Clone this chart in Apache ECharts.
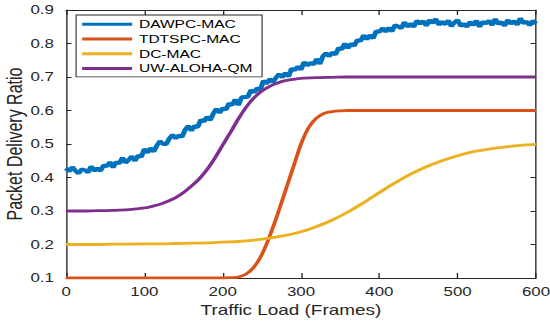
<!DOCTYPE html>
<html><head><meta charset="utf-8">
<script src="https://cdn.jsdelivr.net/npm/echarts@6/dist/echarts.min.js"></script>
<style>
html,body{margin:0;padding:0;background:#fff;overflow:hidden;width:550px;height:323px}
#wrap{width:407px;height:323px;transform:scaleX(1.3514);transform-origin:0 0}
</style></head><body><div id="wrap"></div>
<script>
const seriesNames = ['DAWPC-MAC', 'TDTSPC-MAC', 'DC-MAC', 'UW-ALOHA-QM'];
const seriesColors = ['#0072BD', '#D95319', '#EDB120', '#7E2F8E'];

// DAWPC-MAC: traffic load every 4 frames from 0 to 600
const dawpcStep = 4;
const dawpcY = [0.428,0.418,0.431,0.420,0.412,0.425,0.422,0.415,0.433,0.420,
0.427,0.420,0.437,0.433,0.446,0.430,0.446,0.442,0.459,0.444,
0.453,0.463,0.450,0.466,0.461,0.485,0.474,0.488,0.477,0.496,
0.508,0.500,0.500,0.517,0.527,0.517,0.526,0.521,0.542,0.554,
0.540,0.554,0.550,0.572,0.567,0.581,0.571,0.591,0.605,0.593,
0.607,0.602,0.621,0.616,0.633,0.616,0.639,0.641,0.640,0.661,
0.654,0.667,0.661,0.689,0.680,0.694,0.685,0.698,0.709,0.699,
0.712,0.702,0.725,0.720,0.731,0.722,0.745,0.734,0.743,0.737,
0.754,0.739,0.762,0.771,0.762,0.773,0.767,0.787,0.782,0.800,
0.786,0.800,0.793,0.811,0.807,0.825,0.812,0.825,0.815,0.837,
0.834,0.846,0.835,0.847,0.836,0.855,0.851,0.845,0.864,0.850,
0.859,0.850,0.868,0.859,0.867,0.853,0.870,0.861,0.873,0.856,
0.865,0.857,0.869,0.851,0.863,0.870,0.852,0.859,0.850,0.865,
0.855,0.868,0.850,0.865,0.860,0.868,0.855,0.873,0.858,0.864,
0.853,0.870,0.859,0.867,0.856,0.875,0.860,0.866,0.854,0.868,0.859];

const tdtspcX = [0,50,100,150,180,190,200,210,220,230,240,250,260,270,280,290,300,310,320,330,340,350,360,380,400,450,500,550,600];
const tdtspcY = [0.1,0.1,0.1,0.1,0.1,0.1,0.1,0.101,0.103,0.112,0.133,0.17,0.225,0.29,0.36,0.43,0.5,0.55,0.578,0.592,0.597,0.599,0.6,0.6,0.6,0.6,0.6,0.6,0.6];

const dcX = [0,20,40,60,80,100,120,140,160,180,200,220,240,260,280,300,320,340,360,380,400,420,440,460,480,500,520,540,560,580,600];
const dcY = [0.2,0.2,0.2,0.201,0.201,0.202,0.202,0.203,0.204,0.205,0.207,0.209,0.213,0.219,0.227,0.238,0.254,0.273,0.297,0.325,0.355,0.384,0.41,0.432,0.45,0.465,0.477,0.485,0.491,0.496,0.499];

const uwX = [0,20,40,60,80,100,110,120,130,140,150,160,170,180,190,200,210,220,230,240,250,260,270,280,290,300,320,340,360,400,450,500,550,600];
const uwY = [0.3,0.3,0.301,0.302,0.304,0.309,0.314,0.32,0.329,0.34,0.355,0.374,0.396,0.424,0.458,0.497,0.535,0.575,0.61,0.638,0.658,0.672,0.682,0.689,0.693,0.696,0.698,0.699,0.7,0.7,0.7,0.7,0.7,0.7];

const xMin = 0, xMax = 600, xInterval = 100;
const yMin = 0.1, yMax = 0.9, yInterval = 0.1;

const zip = (xs, ys) => ys.map((y, i) => [xs[i], y]);
const dawpcData = dawpcY.map((y, i) => [i * dawpcStep, y]);

const axisColor = '#262626';
const fontFam = '"Liberation Sans", Arial, Helvetica, sans-serif';

const chart = echarts.init(document.getElementById('wrap'), null, {renderer: 'svg', width: 407, height: 323});

function xAx(pos, main) {
  return {
    type: 'value', position: pos, min: xMin, max: xMax, interval: xInterval,
    axisLine: {show: true, onZero: false, lineStyle: {color: axisColor, width: 1}},
    axisTick: {show: true, inside: true, length: 5, lineStyle: {color: axisColor, width: 1}},
    axisLabel: {show: main, fontSize: 12.5, color: axisColor, margin: 7, fontFamily: fontFam},
    splitLine: {show: false},
    name: main ? 'Traffic Load (Frames)' : '',
    nameLocation: 'middle', nameGap: 22,
    nameTextStyle: {fontSize: 14, color: axisColor, fontFamily: fontFam, padding: [0, 15, 0, 0]}
  };
}
function yAx(pos, main) {
  return {
    type: 'value', position: pos, min: yMin, max: yMax, interval: yInterval,
    axisLine: {show: true, onZero: false, lineStyle: {color: axisColor, width: 1}},
    axisTick: {show: true, inside: true, length: 4, lineStyle: {color: axisColor, width: 1}},
    axisLabel: {show: main, fontSize: 12.5, color: axisColor, margin: 9, fontFamily: fontFam,
      formatter: v => v.toFixed(1)},
    splitLine: {show: false},
    name: main ? 'Packet Delivery Ratio' : '',
    nameLocation: 'middle', nameGap: 30, nameMoveOverlap: false,
    nameTextStyle: {fontSize: 16, color: axisColor, fontFamily: fontFam}
  };
}

const datasets = [dawpcData, zip(tdtspcX, tdtspcY), zip(dcX, dcY), zip(uwX, uwY)];

chart.setOption({
  animation: false,
  backgroundColor: '#fff',
  grid: {left: 48.9, right: 10.4, top: 10, bottom: 45, containLabel: false, outerBoundsMode: 'none'},
  xAxis: [xAx('bottom', true), xAx('top', false)],
  yAxis: [yAx('left', true), yAx('right', false)],
  legend: {
    orient: 'vertical', left: 56.3, top: 15,
    padding: [2, 7, 1, 4.5], itemGap: 0,
    itemWidth: 37, itemHeight: 3, icon: 'rect',
    backgroundColor: '#fff', borderColor: axisColor, borderWidth: 0.8, borderRadius: 0,
    textStyle: {fontSize: 11.5, color: '#000', lineHeight: 14.7, fontFamily: fontFam},
    data: seriesNames
  },
  series: seriesNames.map((name, i) => ({
    name, type: 'line', data: datasets[i],
    showSymbol: false, symbol: 'none',
    smooth: i === 0 ? false : 0.3,
    color: seriesColors[i],
    lineStyle: {color: seriesColors[i], width: i === 0 ? 3.8 : 2.8},
    z: 2 + i
  }))
});
</script></body></html>
